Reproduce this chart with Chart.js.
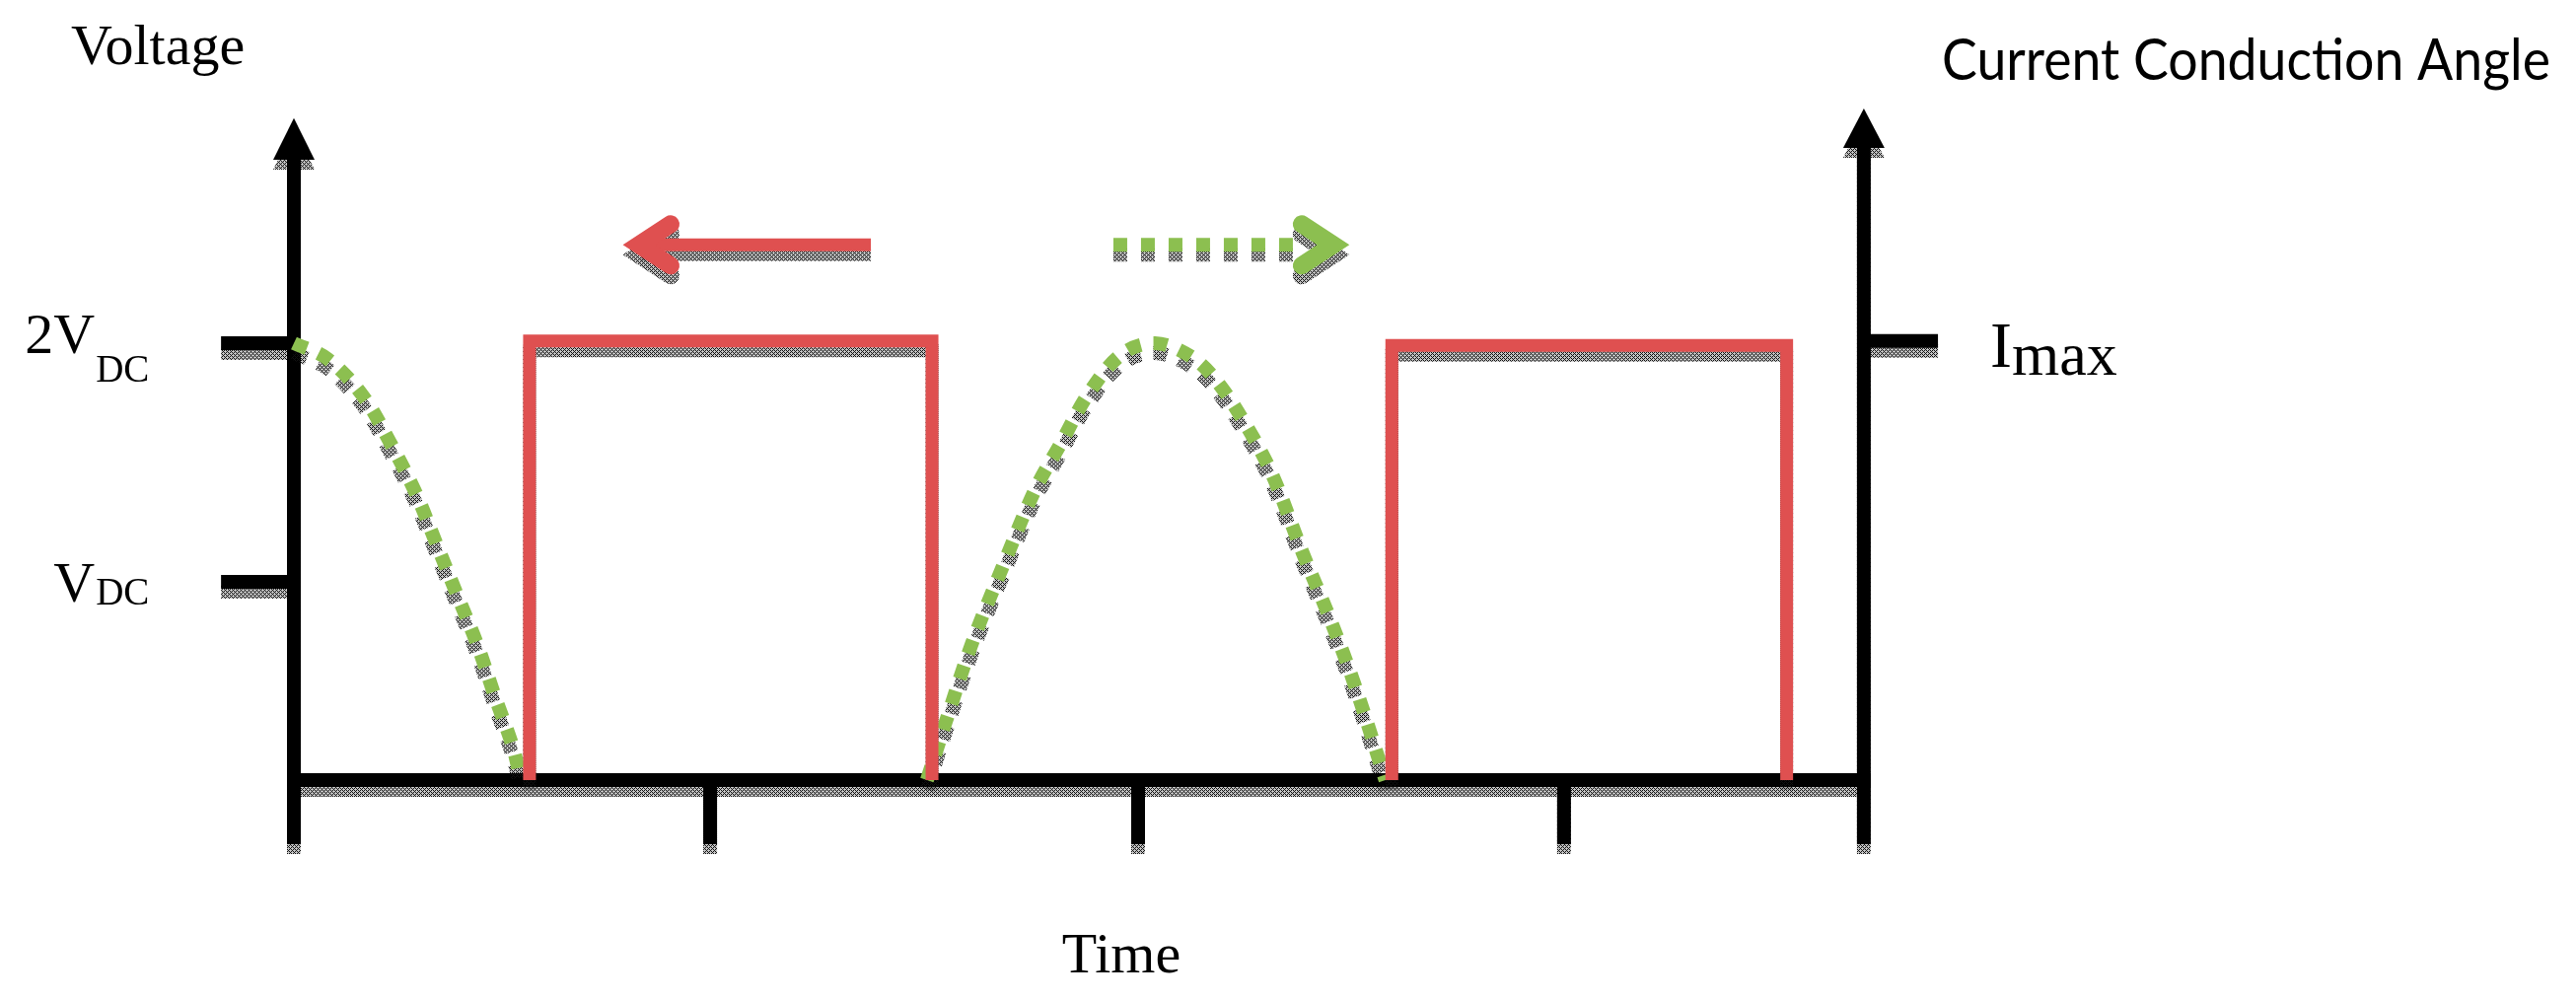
<!DOCTYPE html>
<html>
<head>
<meta charset="utf-8">
<title>Current Conduction Angle</title>
<script src="https://cdn.jsdelivr.net/npm/chart.js@4.4.1/dist/chart.umd.min.js"></script>
<style>
  html, body { margin: 0; padding: 0; background: #fff; overflow: hidden; }
  #wrap { width: 2612px; height: 1014px; }
</style>
</head>
<body>
<div id="wrap"><canvas id="waveChart" width="2612" height="1014"></canvas></div>
<script>
// time is in electrical degrees, left axis = 0
const greenTime  = [0, 13, 27, 38, 48, 56, 64, 72, 79, 86, 89, null,
                    248.5, 256, 266, 278, 291, 301, 312, 325, 338, 352, 362, 374, 384, 396, 406, 416, 428.5];
const greenLevel = [2.0, 1.93, 1.76, 1.54, 1.31, 1.08, 0.85, 0.62, 0.38, 0.15, 0, null,
                    0, 0.27, 0.62, 0.97, 1.33, 1.54, 1.77, 1.95, 2.0, 1.94, 1.83, 1.62, 1.4, 1.04, 0.76, 0.45, 0];

const redTime  = [92.5, 92.5, 250.5, 250.5, null, 431, 431, 586, 586];
const redLevel = [0, 2.01, 2.01, 0, null, 0, 1.99, 1.99, 0];

const timeTicks = [163.4, 331.4, 498.6];
const voltTicks = [2.0, 0.907];
const voltTickLabels = [['2V', 'DC'], ['V', 'DC']];
const currentTicks = [2.01];
const currentTickLabels = [['I', 'max']];

// arrows above the plot (time, level)
const redArrowTime = [226.5, 129.3];     // tail -> tip
const greenArrowTime = [321.7, 414.2];   // tail -> tip
const arrowLevel = 2.45;

// frame
const axisLeftT = 0, axisRightT = 616.3, axisBottomV = -0.293;
const leftArrowBaseV = 2.84, leftArrowTipV = 3.03;
const rightArrowBaseV = 2.894, rightArrowTipV = 3.074;
const leftTickEndT = -28.6, rightTickEndT = 645.4;
const xRange = [-115.37, 895.86];
const yRange = [-1.0068, 3.5711];

const RED = '#DF5050';
const GREEN = '#8CBF50';
const INK = '#000';
const SERIF = '"Liberation Serif", "Times New Roman", serif';
const SHADOW_DY = 10;

// crosshatch used for the drop shadows
function makeHatch() {
  const c = document.createElement('canvas');
  c.width = 4; c.height = 4;
  const g = c.getContext('2d');
  g.fillStyle = 'rgba(0,0,0,0.22)';
  g.fillRect(0, 0, 4, 4);
  g.fillStyle = '#111';
  for (let y = 0; y < 4; y++) {
    for (let x = 0; x < 4; x++) {
      if ((x + y) % 4 === 0 || (x - y + 4) % 4 === 0) g.fillRect(x, y, 1, 1);
    }
  }
  return g.createPattern(c, 'repeat');
}
const hatch = makeHatch();

function toPoints(xs, ys) {
  return xs.map((x, i) => ({ x: x, y: ys[i] }));
}

function lineSets() {
  return [
    {
      label: 'Current',
      data: toPoints(redTime, redLevel),
      borderColor: RED,
      borderWidth: 13,
      tension: 0,
      borderJoinStyle: 'miter',
      borderCapStyle: 'butt'
    },
    {
      label: 'Voltage',
      data: toPoints(greenTime, greenLevel),
      borderColor: GREEN,
      borderWidth: 14,
      borderDash: [14, 13],
      tension: 0.35,
      borderCapStyle: 'butt'
    }
  ];
}

const mainSets = lineSets().map((d, i) => Object.assign(d, { order: i }));
const shadowSets = lineSets().map((d, i) => Object.assign(d, { borderColor: hatch, isShadow: true, order: 5 + i }));
const datasets = mainSets.concat(shadowSets).map(d => Object.assign(d, {
  showLine: true, pointRadius: 0, pointHoverRadius: 0, spanGaps: false, fill: false
}));

function seg(ctx, x1, y1, x2, y2) {
  ctx.beginPath();
  ctx.moveTo(x1, y1);
  ctx.lineTo(x2, y2);
  ctx.stroke();
}

function upTriangle(ctx, x, tipY, baseY, half) {
  ctx.beginPath();
  ctx.moveTo(x, tipY);
  ctx.lineTo(x + half, baseY);
  ctx.lineTo(x - half, baseY);
  ctx.closePath();
  ctx.fill();
}

function drawFrame(chart, paint) {
  const ctx = chart.ctx;
  const X = v => chart.scales.x.getPixelForValue(v);
  const Y = v => chart.scales.y.getPixelForValue(v);
  ctx.strokeStyle = paint;
  ctx.fillStyle = paint;
  ctx.lineWidth = 14;
  ctx.lineCap = 'butt';
  const x0 = X(axisLeftT), x1 = X(axisRightT), y0 = Y(0), yb = Y(axisBottomV);
  seg(ctx, x0 - 7, y0, x1 + 7, y0);
  seg(ctx, x0, yb, x0, Y(leftArrowBaseV));
  seg(ctx, x1, yb, x1, Y(rightArrowBaseV));
  timeTicks.forEach(t => seg(ctx, X(t), y0, X(t), yb));
  voltTicks.forEach(v => seg(ctx, X(leftTickEndT), Y(v), x0, Y(v)));
  currentTicks.forEach(v => seg(ctx, x1, Y(v), X(rightTickEndT), Y(v)));
  upTriangle(ctx, x0, Y(leftArrowTipV), Y(leftArrowBaseV), 21);
  upTriangle(ctx, x1, Y(rightArrowTipV), Y(rightArrowBaseV), 21);
}

// chevron head: dir = -1 points left, +1 points right
function chevron(ctx, tipX, y, dir) {
  const joinX = tipX - dir * 16;
  ctx.lineWidth = 18;
  ctx.lineJoin = 'miter';
  ctx.miterLimit = 10;
  ctx.lineCap = 'round';
  ctx.beginPath();
  ctx.moveTo(joinX - dir * 32, y - 21);
  ctx.lineTo(joinX, y);
  ctx.lineTo(joinX - dir * 32, y + 21);
  ctx.stroke();
}

function drawArrows(chart, redPaint, greenPaint) {
  const ctx = chart.ctx;
  const X = v => chart.scales.x.getPixelForValue(v);
  const y = chart.scales.y.getPixelForValue(arrowLevel);
  // red solid arrow (left)
  const rTail = X(redArrowTime[0]), rTip = X(redArrowTime[1]);
  ctx.strokeStyle = redPaint;
  ctx.lineWidth = 13;
  ctx.lineCap = 'butt';
  ctx.setLineDash([]);
  seg(ctx, rTail, y, rTip + 18, y);
  chevron(ctx, rTip, y, -1);
  // green dotted arrow (right)
  const gTail = X(greenArrowTime[0]), gTip = X(greenArrowTime[1]);
  ctx.strokeStyle = greenPaint;
  ctx.lineWidth = 14;
  ctx.lineCap = 'butt';
  ctx.setLineDash([14, 14]);
  seg(ctx, gTail, y, gTail + 182, y);
  ctx.setLineDash([]);
  chevron(ctx, gTip, y, 1);
}

function fitText(ctx, text, x, y, width) {
  const w = ctx.measureText(text).width;
  ctx.save();
  ctx.translate(x, y);
  ctx.scale(width / w, 1);
  ctx.fillText(text, 0, 0);
  ctx.restore();
}

const framePlugin = {
  id: 'frame',
  beforeDatasetsDraw(chart) {
    const ctx = chart.ctx;
    ctx.save();
    ctx.translate(0, SHADOW_DY);
    drawFrame(chart, hatch);
    ctx.restore();
    ctx.save();
    drawFrame(chart, INK);
    ctx.restore();
  },
  beforeDatasetDraw(chart, args) {
    if (chart.data.datasets[args.index].isShadow) {
      chart.ctx.save();
      chart.ctx.translate(0, SHADOW_DY);
    }
  },
  afterDatasetDraw(chart, args) {
    if (chart.data.datasets[args.index].isShadow) chart.ctx.restore();
  },
  afterDraw(chart) {
    const ctx = chart.ctx;
    const X = v => chart.scales.x.getPixelForValue(v);
    const Y = v => chart.scales.y.getPixelForValue(v);

    ctx.save();
    ctx.translate(0, SHADOW_DY);
    drawArrows(chart, hatch, hatch);
    ctx.restore();
    ctx.save();
    drawArrows(chart, RED, GREEN);
    ctx.restore();

    ctx.save();
    ctx.fillStyle = INK;
    ctx.textBaseline = 'alphabetic';

    ctx.textAlign = 'left';
    ctx.font = '58px ' + SERIF;
    ctx.fillText('Voltage', 72, 65);

    ctx.textAlign = 'center';
    ctx.fillText('Time', 1137, 986);

    // left tick labels with subscripts
    const voltDrop = [[10, 39], [20, 23]];
    voltTicks.forEach((v, i) => {
      const ty = Y(v);
      const right = X(leftTickEndT) - 128;
      ctx.textAlign = 'right';
      ctx.font = '58px ' + SERIF;
      ctx.fillText(voltTickLabels[i][0], right, ty + voltDrop[i][0]);
      ctx.textAlign = 'left';
      ctx.font = '39px ' + SERIF;
      ctx.fillText(voltTickLabels[i][1], right + 1, ty + voltDrop[i][1]);
    });

    // right tick label
    currentTicks.forEach((v, i) => {
      const ty = Y(v);
      const left = X(rightTickEndT) + 53;
      ctx.textAlign = 'left';
      ctx.font = '66px ' + SERIF;
      ctx.fillText(currentTickLabels[i][0], left, ty + 26);
      const w = ctx.measureText(currentTickLabels[i][0]).width;
      ctx.font = '62px ' + SERIF;
      ctx.fillText(currentTickLabels[i][1], left + w, ty + 34);
    });

    ctx.textAlign = 'left';
    ctx.font = '58px Lato, "Open Sans", sans-serif';
    fitText(ctx, 'Current Conduction Angle', 1969, 81, 617);
    ctx.restore();
  }
};

new Chart(document.getElementById('waveChart').getContext('2d'), {
  type: 'scatter',
  data: { datasets: datasets },
  options: {
    responsive: false,
    animation: false,
    events: [],
    layout: { padding: 0 },
    plugins: {
      legend: { display: false },
      tooltip: { enabled: false }
    },
    scales: {
      x: { type: 'linear', min: xRange[0], max: xRange[1], display: false },
      y: { type: 'linear', min: yRange[0], max: yRange[1], display: false }
    }
  },
  plugins: [framePlugin]
});
</script>
</body>
</html>
